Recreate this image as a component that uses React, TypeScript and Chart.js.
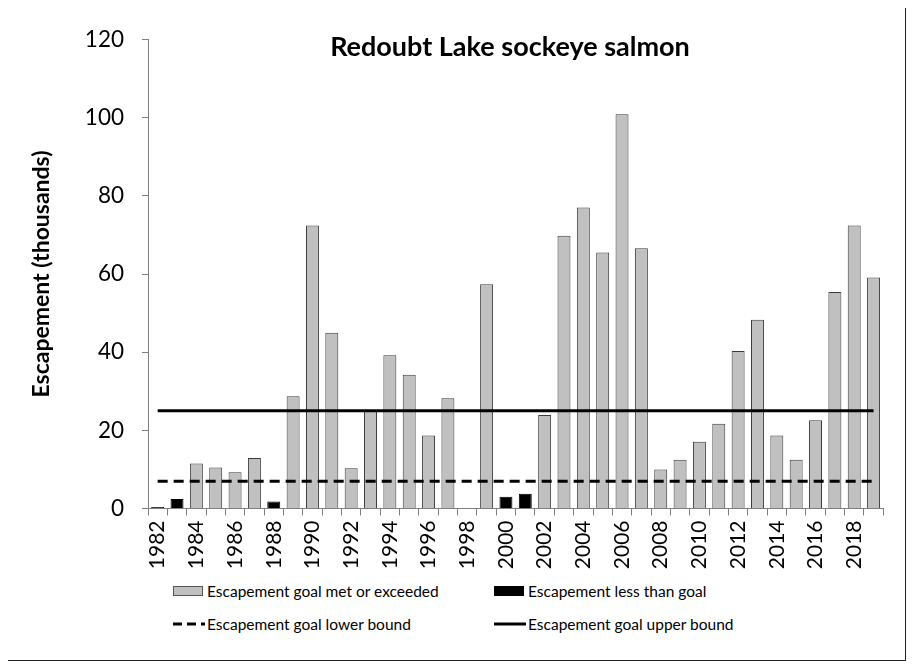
import React, { useEffect, useRef } from "react";
import { Chart, registerables } from "chart.js";

Chart.register(...registerables);

const chartTitle = "Redoubt Lake sockeye salmon";
const yAxisTitle = "Escapement (thousands)";

const years = [
  "1982", "1983", "1984", "1985", "1986", "1987", "1988", "1989", "1990", "1991",
  "1992", "1993", "1994", "1995", "1996", "1997", "1998", "1999", "2000", "2001",
  "2002", "2003", "2004", "2005", "2006", "2007", "2008", "2009", "2010", "2011",
  "2012", "2013", "2014", "2015", "2016", "2017", "2018", "2019",
];

// escapement in thousands of fish (1998: no count)
const escapement: (number | null)[] = [
  0.4, 2.4, 11.5, 10.5, 9.3, 12.9, 1.8, 28.7, 72.4, 45.0,
  10.3, 24.9, 39.2, 34.2, 18.7, 28.2, null, 57.4, 3.0, 3.8,
  23.9, 69.8, 77.0, 65.5, 100.9, 66.6, 10.0, 12.5, 17.1, 21.7,
  40.3, 48.3, 18.7, 12.5, 22.6, 55.4, 72.4, 59.1,
];

const goalLowerBound = 7;
const goalUpperBound = 25;

const yMin = 0;
const yMax = 120;
const yStep = 20;

const legendLabels = [
  "Escapement goal met or exceeded",
  "Escapement less than goal",
  "Escapement goal lower bound",
  "Escapement goal upper bound",
];

const FONT = "Lato, 'Open Sans', sans-serif";

export default function App() {
  const canvasRef = useRef<HTMLCanvasElement | null>(null);

  useEffect(() => {
    if (!canvasRef.current) return;
    const met = escapement.map((v) => (v !== null && v >= goalLowerBound ? v : null));
    const below = escapement.map((v) => (v !== null && v < goalLowerBound ? v : null));
    const lower = years.map(() => goalLowerBound);
    const upper = years.map(() => goalUpperBound);

    const titlePlugin = {
      id: "innerTitle",
      afterDraw(chart: any) {
        const ctx = chart.ctx;
        ctx.save();
        ctx.font = `bold 27px ${FONT}`;
        ctx.fillStyle = "#000";
        ctx.textAlign = "center";
        ctx.textBaseline = "alphabetic";
        ctx.fillText(chartTitle, 502, 48);
        ctx.restore();
      },
    };

    const chart = new Chart(canvasRef.current, {
      type: "bar",
      data: {
        labels: years,
        datasets: [
          {
            type: "line",
            label: legendLabels[2],
            data: lower,
            borderColor: "#000",
            borderWidth: 3,
            borderDash: [10, 6],
            pointRadius: 0,
            fill: false,
            order: 0,
          } as any,
          {
            type: "line",
            label: legendLabels[3],
            data: upper,
            borderColor: "#000",
            borderWidth: 3,
            pointRadius: 0,
            fill: false,
            order: 0,
          } as any,
          {
            type: "bar",
            label: legendLabels[0],
            data: met,
            backgroundColor: "#c0c0c0",
            borderColor: "#3a3a3a",
            borderWidth: 1,
            grouped: false,
            barPercentage: 0.67,
            categoryPercentage: 1,
            order: 1,
          } as any,
          {
            type: "bar",
            label: legendLabels[1],
            data: below,
            backgroundColor: "#000",
            borderColor: "#000",
            borderWidth: 1,
            grouped: false,
            barPercentage: 0.67,
            categoryPercentage: 1,
            order: 1,
          } as any,
        ],
      },
      options: {
        responsive: false,
        animation: false,
        layout: { padding: { top: 25.5, right: 18, bottom: 0, left: 0 } },
        plugins: {
          legend: { display: false },
          title: { display: false },
          tooltip: { enabled: false },
        },
        scales: {
          x: {
            offset: true,
            grid: {
              display: true,
              drawOnChartArea: false,
              drawTicks: true,
              offset: true,
              tickLength: 7,
              color: "#808080",
            },
            border: { display: true, color: "#808080", width: 1 },
            ticks: {
              autoSkip: false,
              maxRotation: 90,
              minRotation: 90,
              padding: 5,
              color: "#000",
              font: { family: FONT, size: 21 },
              callback: (_v: any, i: number) => (i % 2 === 0 ? years[i] : ""),
            },
            afterFit: (scale: any) => {
              scale.height = 64.5;
            },
          },
          y: {
            min: yMin,
            max: yMax,
            grid: {
              display: true,
              drawOnChartArea: false,
              drawTicks: true,
              tickLength: 6,
              color: "#808080",
            },
            border: { display: true, color: "#808080", width: 1 },
            ticks: {
              stepSize: yStep,
              padding: 18,
              color: "#000",
              font: { family: FONT, size: 22.5 },
            },
            title: {
              display: true,
              text: yAxisTitle,
              color: "#000",
              font: { family: FONT, size: 23, weight: "bold" },
              padding: { top: 20, bottom: 0 },
            },
            afterFit: (scale: any) => {
              scale.width = 140;
            },
          },
        },
      },
      plugins: [titlePlugin],
    });
    return () => chart.destroy();
  }, []);

  const itemStyle = (left: number, top: number): React.CSSProperties => ({
    position: "absolute",
    left,
    top,
    height: 20,
    display: "flex",
    alignItems: "center",
    fontFamily: FONT,
    fontSize: 15.5,
    color: "#000",
    whiteSpace: "nowrap",
  });

  const rowTop1 = 591 - 8 - 10;
  const rowTop2 = 624 - 8 - 10;

  return (
    <div
      style={{
        position: "relative",
        width: 899,
        height: 654,
        margin: "-1px 0 0 -1px",
        border: "1px solid #222",
        boxSizing: "border-box",
        overflow: "hidden",
        background: "#fff",
      }}
    >
      <canvas ref={canvasRef} width={896} height={565} style={{ position: "absolute", left: 0, top: 0 }} />
      <div style={itemStyle(165, rowTop1)}>
        <span style={{ display: "inline-block", width: 28, height: 8, background: "#c0c0c0", border: "1px solid #555", marginRight: 4 }} />
        <span>{legendLabels[0]}</span>
      </div>
      <div style={itemStyle(486, rowTop1)}>
        <span style={{ display: "inline-block", width: 28, height: 8, background: "#000", border: "1px solid #000", marginRight: 4 }} />
        <span>{legendLabels[1]}</span>
      </div>
      <div style={itemStyle(165, rowTop2)}>
        <svg width={32} height={6} style={{ marginRight: 2 }}>
          <line x1={0} y1={3} x2={32} y2={3} stroke="#000" strokeWidth={3} strokeDasharray="9 5" />
        </svg>
        <span>{legendLabels[2]}</span>
      </div>
      <div style={itemStyle(486, rowTop2)}>
        <svg width={32} height={6} style={{ marginRight: 2 }}>
          <line x1={0} y1={3} x2={32} y2={3} stroke="#000" strokeWidth={3} />
        </svg>
        <span>{legendLabels[3]}</span>
      </div>
    </div>
  );
}
